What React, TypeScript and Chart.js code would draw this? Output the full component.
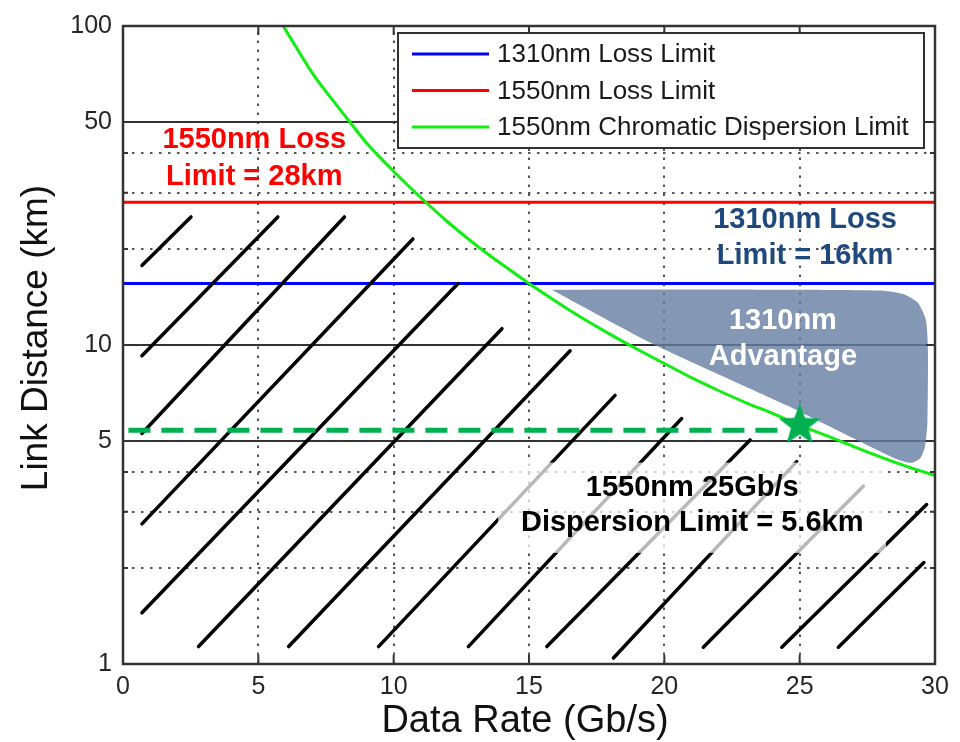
import React, { useEffect, useRef } from 'react';
import { Chart, registerables } from 'chart.js';

Chart.register(...registerables);

const FONT = '"Liberation Sans", Arial, Helvetica, sans-serif';

// ---- axes ----
const xMin = 0;
const xMax = 30;
const yMin = 1;
const yMax = 100;
const xTickValues = [0, 5, 10, 15, 20, 25, 30];
const yTickValues = [1, 5, 10, 50, 100];
const xGridValues = [5, 10, 15, 20, 25];
const yMajorGridValues = [5, 10, 50];
const yMinorGridValues = [2, 3, 4, 20, 30, 40];

// ---- series (Data Rate Gb/s, Link Distance km) ----
const loss1310Km = 15.6;
const loss1550Km = 28;
const dispersionRate = [5.92, 6.5, 7, 8, 9, 10, 11, 12, 13, 14, 15, 16, 17, 18, 19, 20, 21, 22, 23, 24, 25, 26, 27, 28, 29, 30];
const dispersionKm = [100, 83, 71, 55, 43, 35, 29, 24.3, 20.7, 17.9, 15.6, 13.7, 12.1, 10.8, 9.7, 8.75, 7.9, 7.2, 6.6, 6.1, 5.6, 5.2, 4.8, 4.45, 4.15, 3.9];
const markerRate = [25];
const markerKm = [5.6];
const dashedRate = [0.2, 24.5];
const dashedKm = [5.4, 5.4];

// 1310nm advantage region outline
const advantageRate = [15.84, 21.32, 27.97, 28.82, 29.37, 29.67, 29.74, 29.72, 29.63, 29.45, 29.11, 28.52, 26.98, 24.52, 19.6, 15.84];
const advantageKm = [14.91, 14.93, 14.82, 14.45, 13.56, 11.92, 9.48, 5.74, 4.8, 4.41, 4.27, 4.41, 5.1, 6.47, 10.06, 14.91];

// hatch segments (start / end)
const hatchRateStart = [0.7, 0.7, 0.7, 0.7, 0.7, 2.79, 6.12, 9.44, 12.76, 15.66, 18.12, 21.44, 24.34, 26.43];
const hatchKmStart = [17.75, 9.26, 5.28, 2.75, 1.447, 1.134, 1.134, 1.134, 1.134, 1.134, 1.044, 1.129, 1.129, 1.129];
const hatchRateEnd = [2.51, 5.72, 8.18, 10.71, 12.37, 14.0, 16.52, 18.18, 20.64, 23.17, 24.89, 27.35, 29.69, 29.59];
const hatchKmEnd = [25.2, 25.2, 25.2, 21.5, 15.56, 11.25, 9.59, 6.95, 5.88, 5.04, 4.31, 3.61, 3.16, 2.08];

// ---- annotations (positions in data units) ----
const notes = [
  { lines: ['1550nm Loss', 'Limit = 28km'], x: 4.85, y: 38.3, color: '#ff0000', gap: 37 },
  { lines: ['1310nm Loss', 'Limit = 16km'], x: 25.2, y: 21.7, color: '#1f497d', gap: 36 },
  { lines: ['1310nm', 'Advantage'], x: 24.38, y: 10.47, color: '#ffffff', gap: 36 },
  { lines: ['1550nm 25Gb/s', 'Dispersion Limit = 5.6km'], x: 21.03, y: 3.15, color: '#000000', gap: 35 },
];
const textPanel = { x0: 13.86, x1: 28.19, y0: 2.23, y1: 4.28 };

function makeStar(R: number, color: string): HTMLCanvasElement {
  const c = document.createElement('canvas');
  const s = Math.ceil(R * 2 + 4);
  c.width = s;
  c.height = s;
  const g = c.getContext('2d')!;
  g.translate(s / 2, s / 2);
  g.beginPath();
  const r = R * 0.42;
  for (let i = 0; i < 10; i++) {
    const a = -Math.PI / 2 + (i * Math.PI) / 5;
    const rr = i % 2 === 0 ? R : r;
    const x = Math.cos(a) * rr;
    const y = Math.sin(a) * rr;
    if (i === 0) g.moveTo(x, y);
    else g.lineTo(x, y);
  }
  g.closePath();
  g.fillStyle = color;
  g.fill();
  return c;
}

const decorPlugin = {
  id: 'decor',
  beforeDatasetsDraw(chart: any) {
    const { ctx, chartArea: a, scales } = chart;
    const X = (v: number) => scales.x.getPixelForValue(v);
    const Y = (v: number) => scales.y.getPixelForValue(v);
    ctx.save();
    ctx.lineWidth = 2;
    ctx.strokeStyle = '#555';
    ctx.setLineDash([2.5, 6.5]);
    ctx.beginPath();
    xGridValues.forEach((v) => {
      const p = Math.round(X(v));
      ctx.moveTo(p, a.bottom);
      ctx.lineTo(p, a.top);
    });
    yMinorGridValues.forEach((v) => {
      const p = Math.round(Y(v));
      ctx.moveTo(a.left, p);
      ctx.lineTo(a.right, p);
    });
    ctx.stroke();
    ctx.setLineDash([]);
    ctx.strokeStyle = '#333';
    ctx.lineWidth = 2;
    ctx.beginPath();
    yMajorGridValues.forEach((v) => {
      const p = Math.round(Y(v));
      ctx.moveTo(a.left, p);
      ctx.lineTo(a.right, p);
    });
    ctx.stroke();
    ctx.restore();
  },
  afterDatasetsDraw(chart: any) {
    const { ctx, chartArea: a, scales, data } = chart;
    const X = (v: number) => scales.x.getPixelForValue(v);
    const Y = (v: number) => scales.y.getPixelForValue(v);
    ctx.save();
    // translucent panel behind the dispersion text
    ctx.fillStyle = 'rgba(255,255,255,0.72)';
    ctx.fillRect(X(textPanel.x0), Y(textPanel.y1), X(textPanel.x1) - X(textPanel.x0), Y(textPanel.y0) - Y(textPanel.y1));

    // frame + ticks
    ctx.strokeStyle = '#333';
    ctx.lineWidth = 2.5;
    ctx.strokeRect(a.left, a.top, a.right - a.left, a.bottom - a.top);
    ctx.lineWidth = 2;
    ctx.beginPath();
    xTickValues.forEach((v) => {
      const p = X(v);
      ctx.moveTo(p, a.bottom);
      ctx.lineTo(p, a.bottom - 9);
      ctx.moveTo(p, a.top);
      ctx.lineTo(p, a.top + 9);
    });
    yMajorGridValues.forEach((v) => {
      const p = Y(v);
      ctx.moveTo(a.left, p);
      ctx.lineTo(a.left + 9, p);
      ctx.moveTo(a.right, p);
      ctx.lineTo(a.right - 9, p);
    });
    yMinorGridValues.forEach((v) => {
      const p = Y(v);
      ctx.moveTo(a.left, p);
      ctx.lineTo(a.left + 5, p);
      ctx.moveTo(a.right, p);
      ctx.lineTo(a.right - 5, p);
    });
    ctx.stroke();

    // annotations
    ctx.font = `bold 29px ${FONT}`;
    ctx.textAlign = 'center';
    ctx.textBaseline = 'middle';
    notes.forEach((n) => {
      const cx = X(n.x);
      const cy = Y(n.y);
      ctx.fillStyle = n.color;
      n.lines.forEach((t, i) => {
        ctx.fillText(t, cx, cy + (i - (n.lines.length - 1) / 2) * n.gap);
      });
    });

    // legend
    const entries = data.datasets.filter((d: any) => d.inLegend);
    const lx = 398, ly = 33, lw = 526, lh = 115;
    ctx.fillStyle = '#fff';
    ctx.fillRect(lx, ly, lw, lh);
    ctx.strokeStyle = '#333';
    ctx.lineWidth = 2;
    ctx.strokeRect(lx, ly, lw, lh);
    ctx.font = `26px ${FONT}`;
    ctx.textAlign = 'left';
    entries.forEach((d: any, i: number) => {
      const ry = 54 + i * 36.5;
      ctx.strokeStyle = d.borderColor;
      ctx.lineWidth = 3;
      ctx.beginPath();
      ctx.moveTo(412, ry);
      ctx.lineTo(489, ry);
      ctx.stroke();
      ctx.fillStyle = '#1a1a1a';
      ctx.fillText(d.label, 497, ry + 1);
    });

    // axis titles
    ctx.fillStyle = '#111';
    ctx.font = `37px ${FONT}`;
    ctx.textAlign = 'center';
    ctx.textBaseline = 'middle';
    ctx.save();
    ctx.translate(37, 338);
    ctx.rotate(-Math.PI / 2);
    ctx.fillText('Link Distance (km)', 0, 0);
    ctx.restore();
    ctx.font = `38px ${FONT}`;
    ctx.fillText('Data Rate (Gb/s)', 525, 722);
    ctx.restore();
  },
};

export default function App() {
  const ref = useRef<HTMLCanvasElement>(null);
  useEffect(() => {
    const star = makeStar(22, '#00b050');
    const line = (xs: number[], ys: number[]) => xs.map((x, i) => ({ x, y: ys[i] }));
    const datasets: any[] = [];
    datasets.push({
      label: '1310nm Advantage',
      data: line(advantageRate, advantageKm),
      showLine: true,
      fill: 'shape',
      backgroundColor: 'rgba(101,125,161,0.8)',
      borderWidth: 0,
      borderColor: 'rgba(0,0,0,0)',
      pointRadius: 0,
      tension: 0.2,
      order: 6,
    });
    datasets.push({
      label: '1310nm Loss Limit',
      inLegend: true,
      data: line([xMin, xMax], [loss1310Km, loss1310Km]),
      showLine: true,
      borderColor: '#0000ff',
      borderWidth: 3,
      pointRadius: 0,
      order: 5,
    });
    datasets.push({
      label: '1550nm Loss Limit',
      inLegend: true,
      data: line([xMin, xMax], [loss1550Km, loss1550Km]),
      showLine: true,
      borderColor: '#ff0000',
      borderWidth: 3,
      pointRadius: 0,
      order: 5,
    });
    datasets.push({
      label: '1550nm Chromatic Dispersion Limit',
      inLegend: true,
      data: line(dispersionRate, dispersionKm),
      showLine: true,
      borderColor: '#11ee11',
      borderWidth: 3,
      pointRadius: 0,
      cubicInterpolationMode: 'monotone',
      order: 2,
    });
    hatchRateStart.forEach((x0, i) => {
      datasets.push({
        label: 'hatch' + i,
        data: line([x0, hatchRateEnd[i]], [hatchKmStart[i], hatchKmEnd[i]]),
        showLine: true,
        borderColor: '#000',
        borderWidth: 3.5,
        borderCapStyle: 'round',
        pointRadius: 0,
        order: 3,
      });
    });
    datasets.push({
      label: '25Gb/s reach',
      data: line(dashedRate, dashedKm),
      showLine: true,
      borderColor: '#00b050',
      borderWidth: 5,
      borderDash: [22, 11],
      pointRadius: 0,
      order: 1,
    });
    datasets.push({
      label: '25Gb/s limit',
      data: line(markerRate, markerKm),
      showLine: false,
      pointStyle: star,
      pointRadius: 22,
      order: 0,
    });

    const chart = new Chart(ref.current!, {
      type: 'scatter',
      data: { datasets },
      options: {
        animation: false,
        responsive: false,
        layout: { padding: { left: 0, top: 21, right: 25, bottom: 0 } },
        plugins: { legend: { display: false }, tooltip: { enabled: false } },
        scales: {
          x: {
            type: 'linear',
            min: xMin,
            max: xMax,
            afterBuildTicks: (s: any) => {
              s.ticks = xTickValues.map((v) => ({ value: v }));
            },
            afterFit: (s: any) => {
              s.height = 78;
            },
            grid: { display: false, drawTicks: false },
            border: { display: false },
            ticks: {
              font: { family: FONT, size: 25 },
              color: '#262626',
              padding: 8,
              maxRotation: 0,
              autoSkip: false,
              callback: (v: any) => String(v),
            },
          },
          y: {
            type: 'logarithmic',
            min: yMin,
            max: yMax,
            afterBuildTicks: (s: any) => {
              s.ticks = yTickValues.map((v) => ({ value: v }));
            },
            afterFit: (s: any) => {
              s.width = 123;
            },
            grid: { display: false, drawTicks: false },
            border: { display: false },
            ticks: {
              font: { family: FONT, size: 25 },
              color: '#262626',
              padding: 11,
              autoSkip: false,
              callback: (v: any) => String(v),
            },
          },
        },
      },
      plugins: [decorPlugin],
    } as any);
    return () => chart.destroy();
  }, []);
  return (
    <div style={{ position: 'fixed', left: 0, top: 0, width: 960, height: 742, background: '#fff' }}>
      <canvas ref={ref} width={960} height={742} style={{ display: 'block' }} />
    </div>
  );
}
